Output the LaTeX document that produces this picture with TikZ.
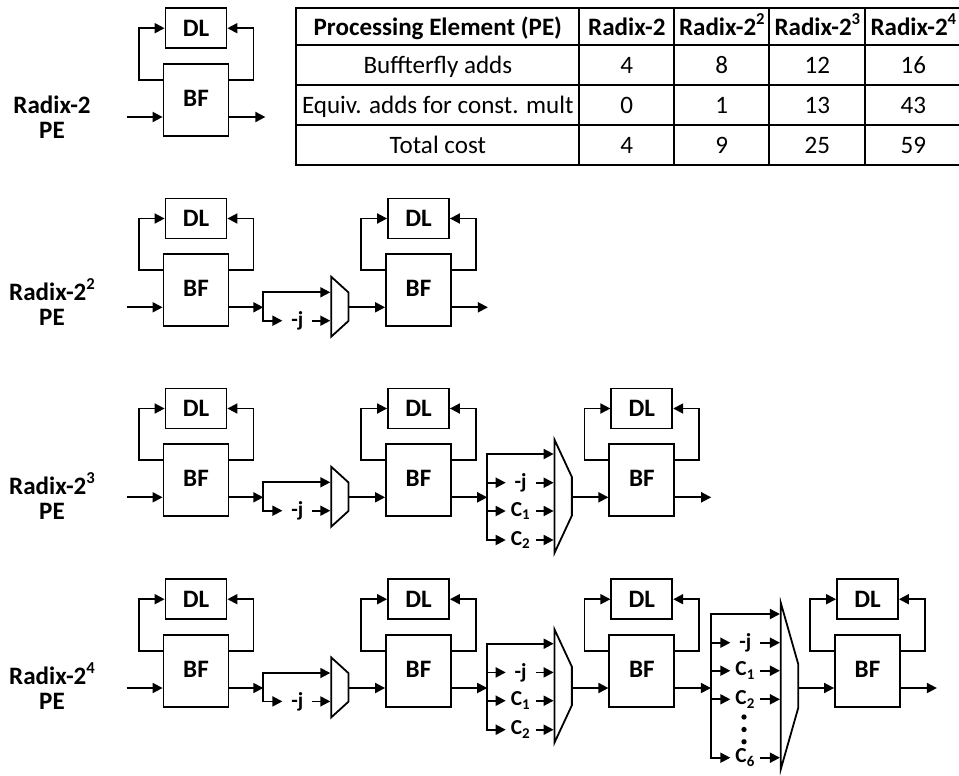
\documentclass[tikz,border=0pt]{standalone}
\usepackage{fontspec}
\setmainfont{Carlito}
\usetikzlibrary{shapes.geometric,arrows.meta,positioning,matrix,calc}
\newcommand{\bigtxt}{\fontsize{18.8}{18.75}\selectfont}
\newcommand{\smalltxt}{\fontsize{16}{18}\selectfont}
\newcommand{\pow}[1]{\smash{\raisebox{8.5pt}{\fontsize{12.5}{13}\selectfont #1}}}

% BF block with its DL and the two feedback loops
\newcommand{\peblock}[3]{
  \node[bfbox] (#1bf) at (#2,#3) {BF};
  \node[dlbox, above=10.5pt of #1bf] (#1dl) {DL};
  \draw[arr] ($(#1bf.west)+(0,-20)$) -- ++(-24,0) |- (#1dl.west);
  \draw[arr] ($(#1bf.east)+(0,-20)$) -- ++(24,0) |- (#1dl.east);
  \coordinate (#1in) at ($(#1bf.west)+(0,17)$);
  \coordinate (#1out) at ($(#1bf.east)+(0,17)$);
}
% wires into and out of a mux: mux, block before, block after, rail distance
\newcommand{\muxjoin}[4]{
  \path (#1.south) ++(-#4,0) coordinate (#1r);
  \coordinate (#1rail) at (#1r |- #2out);
  \draw[arr] (#2out) -- (#1rail);
  \draw[arr] (#1.north |- #3in) -- (#3in);
}
% one labelled mux input: mux, tap name, text, dy, dx
\newcommand{\muxtap}[5]{
  \node[taplabel] (#1#2) at ($(#1.south)+(#5,#4)$) {#3};
  \draw[arr] (#1rail) |- (#1#2.west);
  \draw[arr] (#1#2.east) -- ($(#1.south)+(0,#4)$);
}

\begin{document}
\begin{tikzpicture}[
  x=0.75pt, y=-0.75pt,
  line width=1.35pt,
  arr/.style={-{Triangle[length=7.5pt,width=7.5pt]}},
  bfbox/.style={rectangle, draw, minimum width=48.75pt, minimum height=54pt,
                inner sep=0pt, text depth=3pt, font=\bigtxt\bfseries},
  dlbox/.style={rectangle, draw, minimum width=45.75pt, minimum height=30pt,
                inner sep=0pt, font=\bigtxt\bfseries},
  muxtrap/.style n args={2}{trapezium, draw, rotate=-90, inner sep=0pt,
                text width=1pt, text height=1pt, text depth=0pt,
                trapezium stretches=true, minimum height=13pt,
                minimum width=#1*0.75pt, trapezium left angle=#2,
                trapezium right angle=#2},
  taplabel/.style={inner sep=0pt, minimum width=21pt, font=\smalltxt\bfseries},
  rowlabel/.style={align=center, inner sep=0pt, font=\bigtxt\bfseries},
  cell/.style={rectangle, draw, inner sep=0pt, anchor=center, line width=1.4pt,
               text height=16pt, text depth=2.5pt, minimum height=30pt,
               font=\bigtxt}
]
  \useasboundingbox (0,0) rectangle (959,775);

  % cost table
  \matrix (costs) [matrix of nodes, anchor=north west, inner sep=0pt,
      row sep=-1.4pt, column sep=-1.4pt, nodes={cell},
      column 1/.style={nodes={minimum width=212.25pt}},
      column 2/.style={nodes={minimum width=71.25pt}},
      column 3/.style={nodes={minimum width=71.25pt}},
      column 4/.style={nodes={minimum width=72pt}},
      column 5/.style={nodes={minimum width=72pt}},
      row 1/.style={nodes={minimum height=27.4pt, font=\bigtxt\bfseries}}]
      at (294.5,6.5) {
    Processing Element (PE) & Radix-2 & Radix-2\pow{2} & Radix-2\pow{3} & Radix-2\pow{4} \\
    Buffterfly adds & 4 & 8 & 12 & 16 \\
    Equiv. adds for const. mult & 0 & 1 & 13 & 43 \\
    Total cost & 4 & 9 & 25 & 59 \\
  };

  % row labels
  \node[rowlabel] (labA) at (52,117) {Radix-2\\PE};
  \node[rowlabel] (labB) at (52,304.5) {Radix-2\pow{2}\\PE};
  \node[rowlabel] (labC) at (52,498.5) {Radix-2\pow{3}\\PE};
  \node[rowlabel] (labD) at (52,688.5) {Radix-2\pow{4}\\PE};

  % blocks
  \peblock{aa}{196}{100}
  \peblock{ba}{196}{290.3}
  \peblock{bb}{418.5}{290.3}
  \peblock{ca}{196}{480.3}
  \peblock{cb}{418.5}{480.3}
  \peblock{cc}{641.8}{480.3}
  \peblock{da}{196}{671}
  \peblock{db}{418.5}{671}
  \peblock{dc}{641.8}{671}
  \peblock{dd}{867.5}{671}

  % free inputs and outputs
  \foreach \blk in {aa,ba,ca,da}{
    \path (\blk in) ++(-36,0) coordinate (\blk src);
    \draw[arr] (\blk src) -- (\blk in);
  }
  \foreach \blk in {aa,bb,cc,dd}{
    \path (\blk out) ++(36,0) coordinate (\blk end);
    \draw[arr] (\blk out) -- (\blk end);
  }

  % two input muxes
  \foreach \row/\yy in {b/306.7,c/496.7,d/687.4}{
    \node[muxtrap={60}{61}] (\row m) at (339.85,\yy) {};
    \muxjoin{\row m}{\row a}{\row b}{67}
    \draw[arr] (\row mrail) |- ($(\row m.south)+(0,-14.4)$);
    \muxtap{\row m}{j}{-j}{14}{-33}
  }

  % four input muxes
  \foreach \row/\prv/\nxt/\yy in {c/cb/cc/496.3,d/db/dc/686}{
    \node[muxtrap={113}{46}] (\row n) at (563.2,\yy) {};
    \muxjoin{\row n}{\prv}{\nxt}{66.4}
    \draw[arr] (\row nrail) |- ($(\row n.south)+(0,-42.3)$);
    \muxtap{\row n}{j}{-j}{-13.6}{-33}
    \muxtap{\row n}{a}{C\textsubscript{1}}{14.7}{-33}
    \muxtap{\row n}{b}{C\textsubscript{2}}{43.7}{-33}
  }

  % seven input mux
  \node[muxtrap={166}{36}] (dp) at (789.5,686) {};
  \muxjoin{dp}{dc}{dd}{69}
  \draw[arr] (dprail) |- ($(dp.south)+(0,-72)$);
  \muxtap{dp}{j}{-j}{-43.3}{-34.7}
  \muxtap{dp}{a}{C\textsubscript{1}}{-15.3}{-34.7}
  \muxtap{dp}{b}{C\textsubscript{2}}{13.3}{-34.7}
  \muxtap{dp}{f}{C\textsubscript{6}}{71.7}{-34.7}
  \foreach \k/\yy in {1/717,2/729.5,3/741.7}
    \node[circle, fill, inner sep=0pt, minimum size=4pt] (dot\k) at (744,\yy) {};
\end{tikzpicture}
\end{document}
